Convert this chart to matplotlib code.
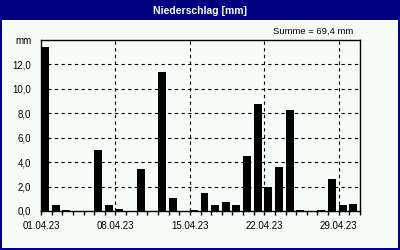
import matplotlib.pyplot as plt
from matplotlib.patches import Rectangle

plt.rcParams['font.family'] = ['Liberation Sans', 'DejaVu Sans']

days = list(range(1, 31))
rain = [13.4, 0.5, 0.1, 0, 0, 5.0, 0.5, 0.2, 0, 3.4,
        0, 11.4, 1.1, 0, 0.1, 1.5, 0.5, 0.7, 0.5, 4.5,
        8.8, 2.0, 3.6, 8.3, 0.1, 0, 0.1, 2.6, 0.5, 0.6]
date_labels = ['01.04.23', '08.04.23', '15.04.23', '22.04.23', '29.04.23']
yticks = [0, 2, 4, 6, 8, 10, 12]

navy = '#000080'
bg = '#f8fcf8'

fig = plt.figure(figsize=(4, 2.5), dpi=100)
fig.patch.set_facecolor(navy)
fig.patches.append(Rectangle((2 / 400, 2 / 250), 396 / 400, 228 / 250,
                             transform=fig.transFigure, facecolor=bg,
                             edgecolor='none', zorder=-5))
fig.text(0.5, 0.958, 'Niederschlag [mm]', color='white', fontsize=7.5,
         fontweight='bold', ha='center', va='center')
fig.text(0.883, 0.875, 'Summe = 69,4 mm', fontsize=6.8, ha='right', va='center')

ax = fig.add_axes([41 / 400, 39 / 250, 319 / 400, 171 / 250])
ax.set_facecolor(bg)
x = [d - 1 for d in days]
ax.bar(x, rain, width=0.75, align='edge', color='black', zorder=3)

ax.set_xlim(0, 30)
ax.set_ylim(0, 14)
ax.set_xticks([0, 7, 14, 21, 28])
ax.set_xticklabels(date_labels, fontsize=7)
ax.set_xticks(range(31), minor=True)
ax.tick_params(axis='x', which='major', length=3, width=1, pad=4, direction='out')
ax.tick_params(axis='x', which='minor', length=3, width=1, direction='out')
ax.set_yticks(yticks + [14])
ax.set_yticklabels([f'{v:.1f}'.replace('.', ',') for v in yticks] + ['mm'], fontsize=7)
ax.tick_params(axis='y', length=0, pad=7)

ax.grid(True, which='major', color='black', linestyle=(0, (3, 3)), linewidth=0.8, zorder=1)
ax.get_ygridlines()[-1].set_visible(False)
ax.get_ygridlines()[0].set_visible(False)
ax.get_xgridlines()[0].set_visible(False)
for s in ax.spines.values():
    s.set_linewidth(1)
    s.set_color('black')

fig.savefig('out.png', dpi=100, facecolor=navy)
